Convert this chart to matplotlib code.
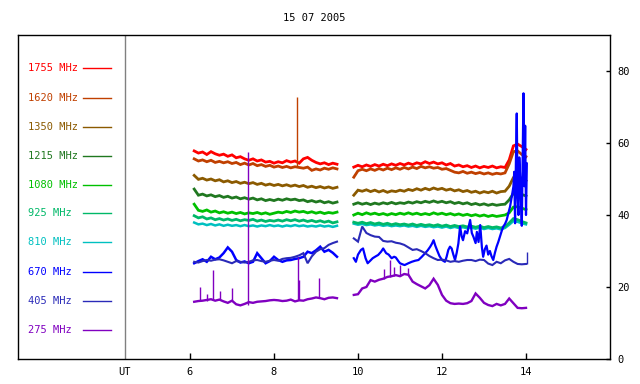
import matplotlib
matplotlib.use("Agg")
import matplotlib.pyplot as plt

title = "15 07 2005"
freqs = ["1755", "1620", "1350", "1215", "1080", "925", "810", "670", "405", "275"]
colors = ["#ff0000", "#c04000", "#8b5a00", "#207820", "#00c000",
          "#00b868", "#00c0c0", "#0000ff", "#2a2ab8", "#8000c0"]
legend_y = [80.8, 72.5, 64.4, 56.4, 48.3, 40.6, 32.5, 24.2, 16.1, 8.1]
xticks = [6, 8, 10, 12, 14]
yticks = [0, 20, 40, 60, 80]

t1 = [6.1, 6.2, 6.3, 6.4, 6.5, 6.6, 6.7, 6.8, 6.9, 7.0, 7.1, 7.2, 7.3, 7.4, 7.5, 7.6, 7.7, 7.8,
      7.9, 8.0, 8.1, 8.2, 8.3, 8.4, 8.5, 8.6, 8.7, 8.8, 8.9, 9.0, 9.1, 9.2, 9.3, 9.4, 9.5]
t2 = [9.9, 10.0, 10.1, 10.2, 10.3, 10.4, 10.5, 10.6, 10.7, 10.8, 10.9, 11.0, 11.1, 11.2, 11.3,
      11.4, 11.5, 11.6, 11.7, 11.8, 11.9, 12.0, 12.1, 12.2, 12.3, 12.4, 12.5, 12.6, 12.7, 12.8,
      12.9, 13.0, 13.1, 13.2, 13.3, 13.4, 13.5, 13.6, 13.7, 13.8, 13.9, 14.0]

# segment 1 values
s1_1755 = [57.8, 57.2, 57.5, 56.8, 57.6, 57.0, 56.6, 56.9, 56.3, 56.7, 55.9, 56.2, 55.6, 55.2, 55.6,
           55.0, 55.3, 54.7, 54.9, 54.4, 54.8, 54.5, 55.1, 54.7, 55.0, 54.4, 55.6, 56.0, 55.2, 54.6,
           54.2, 54.5, 54.0, 54.4, 54.1]
s1_1620 = [55.6, 55.0, 55.3, 54.8, 55.2, 54.6, 54.9, 54.5, 54.8, 54.3, 54.6, 54.0, 54.4, 53.9, 54.3,
           53.7, 54.0, 53.5, 53.8, 53.3, 53.6, 53.2, 53.5, 53.1, 53.4, 53.2, 53.0, 53.3, 52.4, 52.8,
           52.5, 53.0, 52.7, 53.1, 52.8]
s1_1350 = [51.0, 49.9, 50.2, 49.7, 50.0, 49.5, 49.8, 49.2, 49.5, 49.0, 49.3, 48.8, 49.1, 48.7, 49.0,
           48.5, 48.8, 48.3, 48.6, 48.2, 48.5, 48.1, 48.4, 48.0, 48.3, 47.9, 48.2, 47.7, 48.0, 47.6,
           47.9, 47.5, 47.8, 47.4, 47.7]
s1_1215 = [47.2, 45.5, 45.8, 45.3, 45.6, 45.1, 45.4, 44.9, 45.2, 44.7, 45.0, 44.5, 44.8, 44.4, 44.7,
           44.2, 44.5, 44.0, 44.3, 44.0, 44.4, 44.1, 44.5, 44.2, 44.4, 44.0, 44.2, 43.7, 44.0, 43.6,
           43.9, 43.4, 43.7, 43.3, 43.6]
s1_1080 = [43.0, 41.3, 41.0, 41.4, 40.8, 41.1, 40.6, 40.9, 40.5, 40.8, 40.4, 40.7, 40.3, 40.6, 40.4,
           40.7, 40.3, 40.6, 40.2, 40.5, 40.8, 40.6, 41.0, 40.7, 41.1, 40.8, 41.0, 40.6, 40.9, 40.5,
           40.8, 40.4, 40.7, 40.5, 40.8]
s1_925 = [39.8, 39.2, 39.5, 38.9, 39.2, 38.7, 39.0, 38.6, 38.9, 38.5, 38.8, 38.4, 38.7, 38.5, 38.8,
          38.3, 38.6, 38.2, 38.5, 38.3, 38.6, 38.3, 38.7, 38.4, 38.7, 38.3, 38.6, 38.2, 38.5, 38.1,
          38.4, 38.0, 38.3, 37.8, 38.1]
s1_810 = [37.9, 37.4, 37.6, 37.2, 37.5, 37.1, 37.4, 37.0, 37.3, 37.0, 37.2, 36.9, 37.2, 36.9, 37.1,
          36.8, 37.1, 36.9, 37.2, 36.9, 37.1, 36.8, 37.1, 36.9, 37.2, 36.9, 37.1, 36.8, 37.0, 36.8,
          37.1, 36.8, 37.0, 36.7, 37.0]
s1_670 = [26.6, 27.2, 27.7, 27.0, 28.4, 27.7, 28.2, 29.4, 31.0, 29.8, 27.5, 26.8, 27.1, 26.6, 27.0,
          29.4, 28.0, 26.6, 27.2, 28.4, 27.5, 27.0, 27.4, 27.5, 27.8, 28.0, 28.4, 29.8, 29.4, 30.2,
          31.2, 29.8, 30.3, 29.5, 28.4]
s1_405 = [27.0, 26.8, 27.2, 27.5, 27.3, 27.6, 27.7, 27.4, 27.0, 26.6, 27.2, 27.0, 26.8, 27.0, 27.4,
          27.5, 27.2, 27.0, 27.3, 27.5, 27.3, 27.8, 28.0, 28.1, 28.4, 28.8, 29.4, 26.6, 28.5, 29.8,
          30.5, 30.8, 31.7, 32.2, 32.6]
s1_275 = [15.9, 16.1, 16.2, 16.4, 16.6, 16.2, 16.5, 16.0, 15.6, 16.2, 15.2, 14.9, 15.3, 15.8, 15.6,
          15.9, 16.0, 16.1, 16.3, 16.4, 16.3, 16.1, 16.2, 16.5, 16.0, 16.3, 16.2, 16.6, 16.8, 17.1,
          16.9, 16.6, 17.0, 17.1, 16.9]

# segment 2 values
s2_1755 = [53.3, 53.8, 53.4, 53.9, 53.5, 54.0, 53.6, 54.1, 53.7, 54.2, 53.8, 54.3, 53.9, 54.4, 54.0,
           54.5, 54.2, 54.8, 54.3, 54.7, 54.2, 54.5, 53.9, 54.3, 53.6, 53.9, 53.4, 53.7, 53.2, 53.6,
           53.1, 53.5, 53.2, 53.6, 53.1, 53.4, 53.2, 55.3, 59.2, 59.7, 59.0, 58.2]
s2_1620 = [50.5, 52.3, 52.7, 52.3, 52.8, 52.4, 52.9, 52.5, 53.0, 52.6, 53.1, 52.7, 53.2, 52.8, 53.3,
           52.9, 53.5, 53.1, 53.4, 53.0, 53.2, 52.7, 52.9, 52.4, 51.9, 51.7, 52.1, 51.6, 51.9, 51.5,
           51.8, 51.4, 51.7, 51.3, 51.6, 51.4, 51.7, 54.2, 57.6, 57.8, 56.8, 56.2]
s2_1350 = [45.5, 46.9, 46.6, 47.0, 46.5, 46.9, 46.4, 46.8, 46.3, 46.7, 46.5, 46.9, 46.6, 47.1, 46.8,
           47.3, 46.9, 47.4, 47.0, 47.5, 47.1, 47.4, 46.9, 47.2, 46.7, 47.0, 46.5, 46.8, 46.3, 46.6,
           46.1, 46.5, 46.2, 46.6, 46.1, 46.5, 46.6, 48.0, 50.4, 50.8, 50.2, 49.5]
s2_1215 = [43.0, 43.4, 43.0, 43.3, 42.9, 43.3, 43.0, 43.4, 43.1, 43.5, 43.1, 43.4, 43.2, 43.6, 43.3,
           43.7, 43.4, 43.8, 43.5, 43.9, 43.5, 43.8, 43.4, 43.7, 43.2, 43.5, 43.1, 43.4, 42.9, 43.2,
           42.8, 43.1, 42.7, 43.0, 42.7, 42.9, 43.0, 44.2, 46.0, 46.2, 45.7, 45.3]
s2_1080 = [40.0, 40.5, 40.1, 40.6, 40.2, 40.5, 40.1, 40.4, 40.0, 40.4, 40.1, 40.5, 40.2, 40.6, 40.2,
           40.5, 40.1, 40.4, 40.1, 40.6, 40.2, 40.5, 40.1, 40.4, 40.0, 40.3, 39.9, 40.2, 39.8, 40.1,
           39.7, 40.0, 39.6, 39.9, 39.6, 39.8, 40.0, 40.6, 42.2, 42.3, 41.9, 41.5]
s2_925 = [38.0, 37.7, 38.0, 37.6, 37.9, 37.5, 37.8, 37.4, 37.7, 37.3, 37.6, 37.3, 37.5, 37.2, 37.5,
          37.1, 37.4, 37.1, 37.3, 37.0, 37.3, 36.9, 37.2, 36.8, 37.1, 36.8, 37.0, 36.7, 36.9, 36.6,
          36.9, 36.5, 36.8, 36.5, 36.7, 36.4, 36.8, 37.8, 39.0, 38.7, 38.2, 37.8]
s2_810 = [37.6, 37.3, 37.5, 37.2, 37.4, 37.1, 37.3, 37.0, 37.2, 36.9, 37.1, 36.9, 37.1, 36.8, 37.0,
          36.7, 37.0, 36.7, 36.9, 36.6, 36.8, 36.5, 36.8, 36.4, 36.7, 36.4, 36.6, 36.3, 36.5, 36.2,
          36.5, 36.1, 36.4, 36.1, 36.3, 36.0, 36.4, 37.3, 38.3, 38.1, 37.7, 37.4]
s2_405 = [33.5, 32.6, 36.8, 35.0, 34.4, 34.0, 33.9, 32.8, 32.6, 32.7, 32.3, 32.1, 31.7, 31.0, 30.3,
          30.5, 30.0, 29.4, 28.6, 28.0, 27.5, 27.6, 27.4, 27.0, 27.2, 27.0, 27.3, 27.5, 27.5, 27.2,
          27.6, 27.5, 26.5, 26.1, 27.0, 26.6, 27.4, 27.8, 27.0, 26.4, 26.3, 26.4]
s2_275 = [17.8, 18.0, 19.6, 20.0, 21.9, 21.5, 22.0, 22.3, 22.8, 23.0, 23.3, 23.0, 23.6, 23.4, 21.5,
          20.8, 20.2, 19.6, 20.5, 22.3, 20.6, 17.8, 16.2, 15.5, 15.3, 15.4, 15.3, 15.5, 16.1, 18.2,
          17.0, 15.6, 15.0, 14.7, 15.3, 14.9, 15.3, 16.8, 15.5, 14.2, 14.1, 14.2]

# 670 MHz second segment (own, finer time base)
t2_670 = [9.9, 9.95, 10.0, 10.07, 10.12, 10.18, 10.23, 10.3, 10.35, 10.42, 10.48, 10.55, 10.6,
          10.67, 10.73, 10.8, 10.86, 10.9, 10.96, 11.0, 11.06, 11.11, 11.2, 11.28, 11.36, 11.44,
          11.52, 11.6, 11.66, 11.72, 11.76, 11.8, 11.84, 11.88, 11.94, 12.0, 12.07, 12.11, 12.15,
          12.19, 12.23, 12.27, 12.31, 12.35, 12.39, 12.43, 12.47, 12.5, 12.55, 12.6, 12.63, 12.67,
          12.71, 12.75, 12.8, 12.83, 12.87, 12.91, 12.95, 12.98, 13.02, 13.06, 13.1, 13.14, 13.18,
          13.22, 13.26, 13.3, 13.34, 13.38, 13.42, 13.46, 13.5, 13.54, 13.58, 13.62, 13.66, 13.7,
          13.72, 13.74, 13.76, 13.78, 13.8, 13.82, 13.84, 13.86, 13.88, 13.9, 13.92, 13.94, 13.96,
          13.98, 14.0, 14.02]
s2_670 = [28.0, 27.0, 29.0, 30.3, 30.7, 28.0, 26.6, 27.4, 28.0, 28.5, 28.9, 29.8, 30.7, 29.4, 29.0,
          28.0, 28.4, 28.2, 27.2, 26.6, 26.3, 26.1, 26.6, 27.0, 27.3, 27.5, 28.4, 29.4, 30.2, 31.2,
          32.0, 33.0, 31.5, 30.3, 28.6, 27.5, 27.0, 28.4, 30.3, 31.2, 30.7, 29.0, 27.5, 29.5, 32.1,
          36.8, 34.0, 33.0, 35.5, 34.9, 36.5, 38.6, 35.0, 33.9, 32.2, 35.3, 32.5, 37.2, 31.0, 28.4,
          30.5, 31.5, 29.0, 30.0, 28.5, 27.5, 29.5, 31.2, 32.5, 34.0, 35.5, 36.8, 37.5, 38.6, 40.5,
          42.3, 45.0, 47.9, 52.0, 37.7, 55.0, 68.2, 45.0, 40.0, 56.0, 50.7, 44.0, 37.0, 55.0, 73.8,
          48.0, 64.8, 40.0, 54.3]

# isolated spikes: time, bottom, top
spk_1620_t = [8.55]
spk_1620_lo = [53.4]
spk_1620_hi = [72.8]
spk_275_t = [6.25, 6.40, 6.55, 6.72, 7.0, 7.38, 8.56, 8.59, 9.07, 10.62, 10.76, 10.86, 11.0, 11.19]
spk_275_lo = [16.0, 16.2, 16.5, 16.3, 16.0, 15.0, 16.3, 16.3, 17.0, 22.3, 22.8, 23.0, 23.0, 23.4]
spk_275_hi = [20.0, 18.0, 24.7, 18.8, 19.7, 57.5, 28.4, 22.0, 22.4, 25.0, 27.5, 25.5, 26.0, 25.2]
spk_405_t = [14.02]
spk_405_lo = [26.4]
spk_405_hi = [29.8]

seg1 = [s1_1755, s1_1620, s1_1350, s1_1215, s1_1080, s1_925, s1_810, s1_670, s1_405, s1_275]
seg2 = [s2_1755, s2_1620, s2_1350, s2_1215, s2_1080, s2_925, s2_810, None, s2_405, s2_275]
widths = [2.0, 2.0, 2.0, 2.0, 2.0, 2.0, 1.8, 1.8, 1.5, 1.7]

mono = "DejaVu Sans Mono"
fs = 7.5

fig = plt.figure(figsize=(6.4, 3.84), dpi=100)
ax = fig.add_axes([18 / 640, 1 - 359 / 384, 592 / 640, 324 / 384])
ax.set_xlim(1.905, 16.0)
ax.set_ylim(0, 90)

draw_order = [0, 1, 2, 3, 4, 6, 5, 7, 8, 9]
for i in draw_order:
    c = colors[i]
    ax.plot(t1, seg1[i], color=c, lw=widths[i], solid_joinstyle="miter")
    if seg2[i] is not None:
        ax.plot(t2, seg2[i], color=c, lw=widths[i], solid_joinstyle="miter")
    else:
        ax.plot(t2_670, s2_670, color=c, lw=1.6)
    ax.plot([3.45, 4.12], [legend_y[i], legend_y[i]], color=c, lw=1.0)
    ax.text(2.14, legend_y[i], f"{freqs[i]} MHz", color=c, fontsize=fs,
            family=mono, ha="left", va="center")

ax.vlines(spk_1620_t, spk_1620_lo, spk_1620_hi, color=colors[1], lw=1.0)
ax.vlines(spk_405_t, spk_405_lo, spk_405_hi, color=colors[8], lw=1.0)
ax.vlines(spk_275_t, spk_275_lo, spk_275_hi, color=colors[9], lw=1.0)

# UT separator
ax.axvline(4.45, color="#808080", lw=1.0)
ax.text(4.45, -2.2, "UT", fontsize=fs, family=mono, ha="center", va="top")

ax.set_xticks(xticks)
ax.set_xticklabels([str(v) for v in xticks], family=mono, fontsize=fs)
ax.yaxis.tick_right()
ax.set_yticks(yticks)
ax.set_yticklabels([str(v) for v in yticks], family=mono, fontsize=fs)
ax.tick_params(axis="x", direction="in", length=4, width=1, pad=6)
ax.tick_params(axis="y", direction="in", length=3, width=1, pad=5)
for sp in ax.spines.values():
    sp.set_linewidth(1.0)
    sp.set_color("black")

fig.text(314 / 640, 1 - 18 / 384, title, fontsize=fs, family=mono, ha="center", va="center")

fig.savefig("out.png", dpi=100)
